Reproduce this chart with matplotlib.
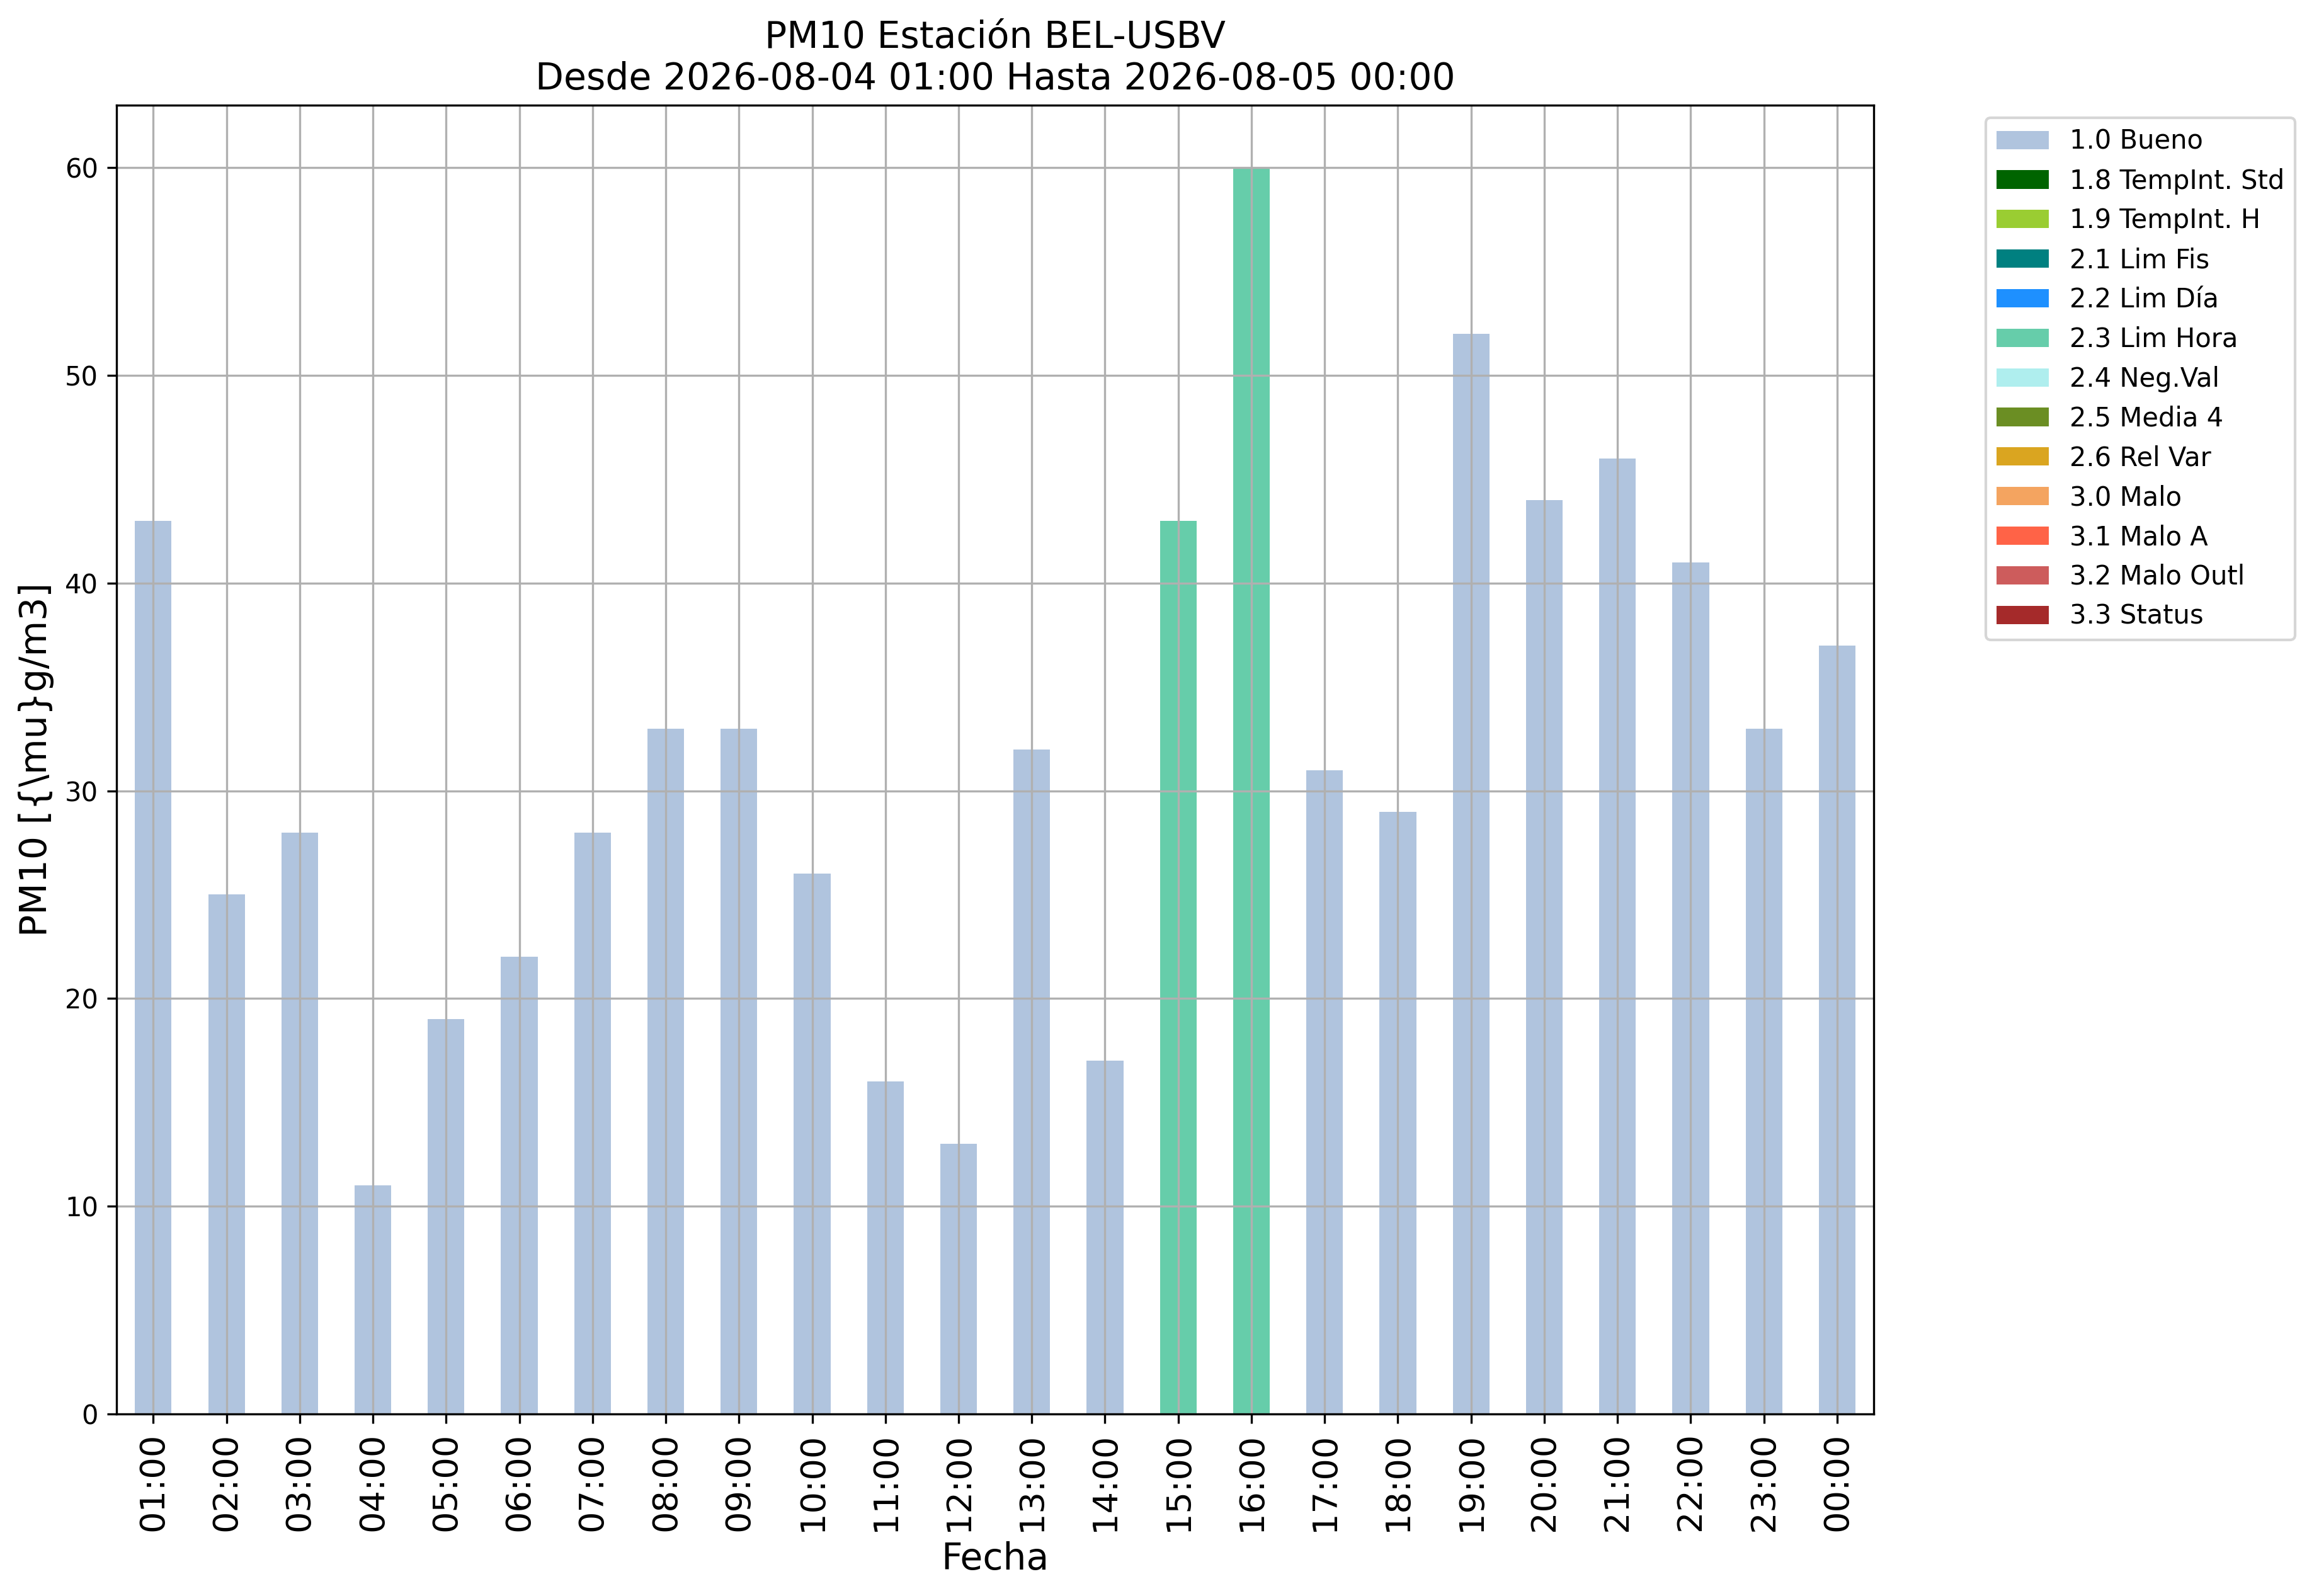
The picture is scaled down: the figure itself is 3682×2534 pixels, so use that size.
import numpy as np
import matplotlib
matplotlib.use('Agg')
import matplotlib.pyplot as plt
import pandas as pd

# horas y valores PM10
horas = ['01:00', '02:00', '03:00', '04:00', '05:00', '06:00', '07:00', '08:00',
         '09:00', '10:00', '11:00', '12:00', '13:00', '14:00', '15:00', '16:00',
         '17:00', '18:00', '19:00', '20:00', '21:00', '22:00', '23:00', '00:00']
valores = [43, 25, 28, 11, 19, 22, 28, 33, 33, 26, 16, 13, 32, 17, 43, 60,
           31, 29, 52, 44, 46, 41, 33, 37]
flags = ['1.0 Bueno'] * 14 + ['2.3 Lim Hora'] * 2 + ['1.0 Bueno'] * 8

categorias = ['1.0 Bueno', '1.8 TempInt. Std', '1.9 TempInt. H', '2.1 Lim Fis',
              '2.2 Lim Día', '2.3 Lim Hora', '2.4 Neg.Val', '2.5 Media 4',
              '2.6 Rel Var', '3.0 Malo', '3.1 Malo A', '3.2 Malo Outl', '3.3 Status']
colores = ['lightsteelblue', 'darkgreen', 'yellowgreen', 'teal', 'dodgerblue',
           'mediumaquamarine', 'paleturquoise', 'olivedrab', 'goldenrod',
           'sandybrown', 'tomato', 'indianred', 'brown']

df = pd.DataFrame(0.0, index=horas, columns=categorias)
for h, v, f in zip(horas, valores, flags):
    df.loc[h, f] = v

fig = plt.figure(figsize=(3682 / 300, 2534 / 300), dpi=300)
ax = fig.add_axes([0.0503, 0.1140, 0.7577, 0.8201])
df.plot(kind='bar', stacked=True, color=colores, width=0.5, ax=ax, grid=True, rot=90)

ax.set_title('PM10 Estación BEL-USBV\nDesde 2026-08-04 01:00 Hasta 2026-08-05 00:00', fontsize=14)
ax.set_xlabel('Fecha', fontsize=14)
ax.set_ylabel('PM10 [{\\mu}g/m3]', fontsize=14)
ax.tick_params(axis='x', labelsize=13)
ax.tick_params(axis='y', labelsize=10)
ax.legend(loc='upper left', bbox_to_anchor=(0.8563, 0.9262), bbox_transform=fig.transFigure,
          borderaxespad=0, fontsize=10)

fig.savefig('out.png', dpi=300)
